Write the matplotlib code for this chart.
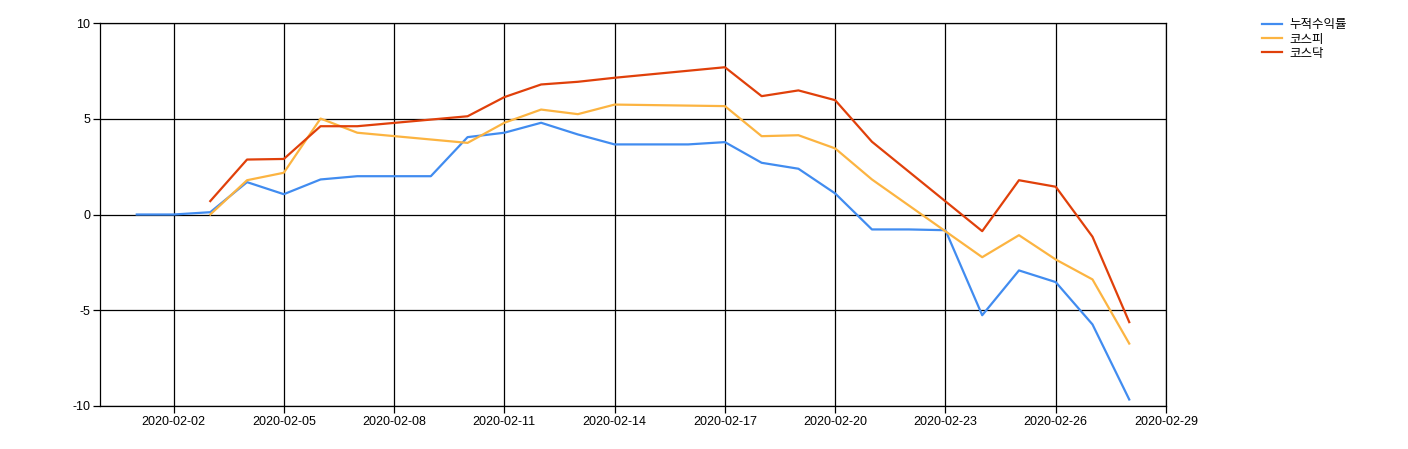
import numpy as np
import pandas as pd
import matplotlib
matplotlib.use("Agg")
import matplotlib.pyplot as plt
import matplotlib.dates as mdates

plt.rcParams['font.family'] = ['Liberation Sans', 'Noto Sans CJK KR', 'DejaVu Sans']
plt.rcParams['axes.unicode_minus'] = False

# cumulative return (includes weekends)
ret_dates = pd.date_range("2020-02-01", "2020-02-28", freq="D")
ret_vals = [0.0, 0.0, 0.12, 1.69, 1.06, 1.83, 2.0, 2.0, 2.0, 4.04,
            4.27, 4.79, 4.18, 3.66, 3.66, 3.66, 3.78, 2.70, 2.39, 1.10,
            -0.78, -0.78, -0.82, -5.26, -2.92, -3.53, -5.74, -9.66]

# index returns (trading days only)
idx_dates = pd.to_datetime([
    "2020-02-03", "2020-02-04", "2020-02-05", "2020-02-06", "2020-02-07",
    "2020-02-10", "2020-02-11", "2020-02-12", "2020-02-13", "2020-02-14",
    "2020-02-17", "2020-02-18", "2020-02-19", "2020-02-20", "2020-02-21",
    "2020-02-24", "2020-02-25", "2020-02-26", "2020-02-27", "2020-02-28",
])
kospi_vals = [0.0, 1.79, 2.18, 5.01, 4.27,
              3.74, 4.79, 5.48, 5.24, 5.74,
              5.66, 4.09, 4.14, 3.45, 1.83,
              -2.23, -1.08, -2.35, -3.39, -6.74]
kosdaq_vals = [0.70, 2.87, 2.90, 4.61, 4.61,
               5.13, 6.13, 6.79, 6.93, 7.14,
               7.69, 6.18, 6.48, 5.97, 3.80,
               -0.87, 1.79, 1.45, -1.16, -5.62]

labels = ["누적수익률", "코스피", "코스닥"]
colors = ["#418CF0", "#FCB441", "#E0400A"]

fig = plt.figure(figsize=(14.08, 4.49), dpi=100)
ax = fig.add_axes([100 / 1408, 43 / 449, 1066 / 1408, 383 / 449])

ax.plot(ret_dates, ret_vals, color=colors[0], lw=1.6, label=labels[0])
ax.plot(idx_dates, kospi_vals, color=colors[1], lw=1.6, label=labels[1])
ax.plot(idx_dates, kosdaq_vals, color=colors[2], lw=1.6, label=labels[2])

ax.set_xlim(pd.Timestamp("2020-01-31"), pd.Timestamp("2020-02-29"))
ax.set_ylim(-10, 10)
ax.set_yticks([-10, -5, 0, 5, 10])
ax.xaxis.set_major_locator(mdates.DayLocator(bymonthday=[2, 5, 8, 11, 14, 17, 20, 23, 26, 29]))
ax.xaxis.set_major_formatter(mdates.DateFormatter("%Y-%m-%d"))

ax.grid(True, color="black", lw=0.9)
ax.set_axisbelow(True)
for s in ax.spines.values():
    s.set_linewidth(0.9)
ax.tick_params(axis="both", labelsize=9, length=5, width=0.9, pad=2)

fig.legend(loc="upper left", bbox_to_anchor=(1251 / 1408, 1 - 7 / 449),
           frameon=False, handlelength=1.6, handletextpad=0.6,
           labelspacing=0.1, prop={'family': ['Noto Sans CJK KR', 'DejaVu Sans'], 'size': 9})

fig.savefig("out.png", dpi=100)
